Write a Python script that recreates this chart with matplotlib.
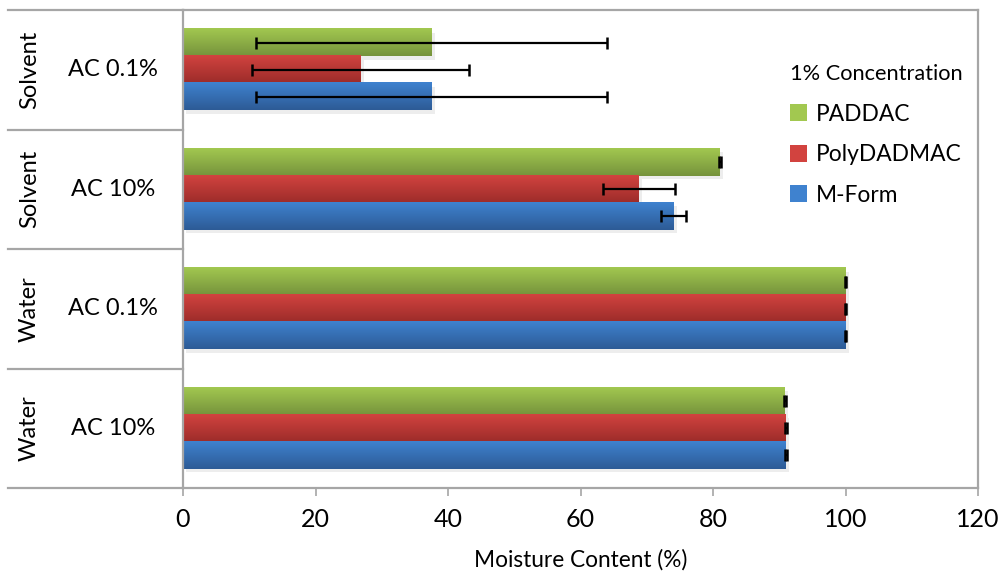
import numpy as np
import matplotlib.pyplot as plt
from matplotlib.colors import LinearSegmentedColormap
from matplotlib.patches import Patch

plt.rcParams['font.family'] = ['Lato', 'DejaVu Sans']

# category levels (top to bottom)
groups = ['Solvent', 'Solvent', 'Water', 'Water']
conc = ['AC 0.1%', 'AC 10%', 'AC 0.1%', 'AC 10%']

# series values (moisture content %)
series = ['PADDAC', 'PolyDADMAC', 'M-Form']
paddac = [37.5, 81.0, 100.0, 90.8]
paddac_err = [26.5, 0.15, 0.15, 0.15]
polydadmac = [26.8, 68.8, 100.0, 91.0]
polydadmac_err = [16.4, 5.4, 0.15, 0.15]
mform = [37.5, 74.0, 100.0, 91.0]
mform_err = [26.5, 1.9, 0.15, 0.15]

# gradient colours top -> bottom (excel style)
grads = [('#a2c850', '#76933c'), ('#d2433f', '#9c2c2a'), ('#3f82cf', '#2d5b96')]

fig = plt.figure(figsize=(10.02, 5.73), dpi=100)
ax = fig.add_axes([183/1002, 1-488/573, 795/1002, 478/573])

ypos = np.arange(len(conc))
h = 0.226
offsets = [-h, 0, h]
vals = [paddac, polydadmac, mform]
errs = [paddac_err, polydadmac_err, mform_err]

for i in range(3):
    y = ypos + offsets[i]
    # soft shadow under bars
    ax.barh(y + 0.03, vals[i], height=h, left=0.5, color='#000000', alpha=0.07, zorder=1)
    bars = ax.barh(y, vals[i], height=h, color='none', zorder=2, label=series[i])
    cmap = LinearSegmentedColormap.from_list('g%d' % i, grads[i])
    grad = np.linspace(0, 1, 64).reshape(-1, 1)
    for b in bars:
        x0, y0 = b.get_x(), b.get_y()
        ax.imshow(grad, extent=[x0, x0 + b.get_width(), y0 + b.get_height(), y0],
                  origin='upper', aspect='auto', cmap=cmap, zorder=2)
    ax.errorbar(vals[i], y, xerr=errs[i], fmt='none', ecolor='black',
                elinewidth=1.6, capsize=4.3, capthick=1.8, zorder=5)

ax.set_xlim(0, 120)
ax.set_ylim(3.5, -0.5)
ax.set_xticks(np.arange(0, 121, 20))
ax.set_yticks([])
gray = '#a6a6a6'
for s in ax.spines.values():
    s.set_color(gray)
    s.set_linewidth(1.6)
ax.tick_params(axis='x', direction='out', length=5.5, width=1.2, color=gray,
               labelsize=18, pad=9)
ax.set_xlabel('Moisture Content (%)', fontsize=16.3, labelpad=13)

# multi-level category table on the left
tr = ax.get_yaxis_transform()
for yy in [-0.5, 0.5, 1.5, 2.5, 3.5]:
    ax.plot([-0.22, 0], [yy, yy], color=gray, lw=1.6, transform=tr, clip_on=False)
for k in range(len(conc)):
    ax.text(-0.088, k, conc[k], transform=tr, ha='center', va='center', fontsize=17)
    ax.text(-0.193, k, groups[k], transform=tr, ha='center', va='center',
            fontsize=17, rotation=90)

handles = [Patch(facecolor=grads[i][0], edgecolor='none') for i in range(3)]
leg = ax.legend(handles, series, title='1% Concentration', loc='upper left',
                bbox_to_anchor=(0.764, 0.887), frameon=False, fontsize=16.4,
                title_fontsize=15.7, handlelength=0.75, handleheight=0.75,
                handletextpad=0.35, labelspacing=0.86, borderpad=0, borderaxespad=0)
leg._legend_box.align = 'left'

fig.savefig('out.png', dpi=100)
